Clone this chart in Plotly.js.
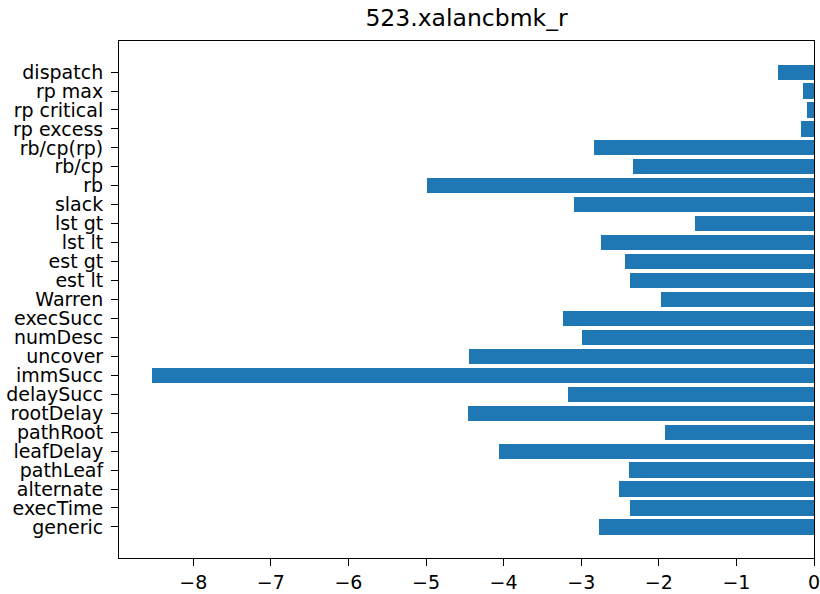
<!DOCTYPE html>
<html>
<head>
<meta charset="utf-8">
<script src="https://cdn.plot.ly/plotly-3.0.1.min.js"></script>
<style>html,body{margin:0;padding:0;background:#fff;}#chart{width:820px;height:594px;}</style>
</head>
<body>
<div id="chart"></div>
<script>
const categories = ["generic", "execTime", "alternate", "pathLeaf", "leafDelay", "pathRoot", "rootDelay", "delaySucc", "immSucc", "uncover", "numDesc", "execSucc", "Warren", "est lt", "est gt", "lst lt", "lst gt", "slack", "rb", "rb/cp", "rb/cp(rp)", "rp excess", "rp critical", "rp max", "dispatch"];
const values = [-2.77, -2.37, -2.51, -2.39, -4.06, -1.92, -4.46, -3.165, -8.53, -4.44, -2.99, -3.23, -1.97, -2.37, -2.44, -2.745, -1.53, -3.09, -4.99, -2.33, -2.84, -0.164, -0.086, -0.146, -0.47];
const xTicks = [-8, -7, -6, -5, -4, -3, -2, -1, 0];
const chartTitle = "523.xalancbmk_r";

const minVal = Math.min(...values);
const font = {family: "DejaVu Sans", size: 19, color: "#000"};

Plotly.newPlot("chart", [{
  type: "bar",
  orientation: "h",
  x: values,
  y: categories,
  width: 0.8,
  marker: {color: "#1f77b4", line: {width: 0}},
  hoverinfo: "none"
}], {
  width: 820, height: 594,
  margin: {l: 119, r: 6, t: 41, b: 36, pad: 0},
  paper_bgcolor: "#fff", plot_bgcolor: "#fff",
  showlegend: false,
  bargap: 0,
  title: {text: chartTitle, font: {family: "DejaVu Sans", size: 23.5, color: "#000"},
          x: 0.5, xref: "paper", xanchor: "center", y: 1 - 18/594, yref: "container", yanchor: "middle"},
  xaxis: {
    range: [minVal * 1.05, 0], autorange: false,
    showgrid: false, zeroline: false,
    showline: true, mirror: true, linecolor: "#000", linewidth: 1,
    ticks: "outside", ticklen: 7, tickwidth: 1, tickcolor: "#000",
    tickmode: "array", tickvals: xTicks, ticktext: xTicks.map(v => v < 0 ? "\u2212" + Math.abs(v) : String(v)),
    tickfont: font, ticklabelstandoff: 0, ticklabeloverflow: "allow"
  },
  yaxis: {
    type: "category",
    range: [-1.64, categories.length - 1 + 1.64], autorange: false,
    showgrid: false, zeroline: false,
    showline: true, mirror: true, linecolor: "#000", linewidth: 1,
    ticks: "outside", ticklen: 7, tickwidth: 1, tickcolor: "#000",
    tickmode: "array", tickvals: categories, ticktext: categories,
    tickfont: font, ticklabelstandoff: 4, ticklabeloverflow: "allow"
  }
}, {displayModeBar: false, staticPlot: true});
</script>
</body>
</html>
